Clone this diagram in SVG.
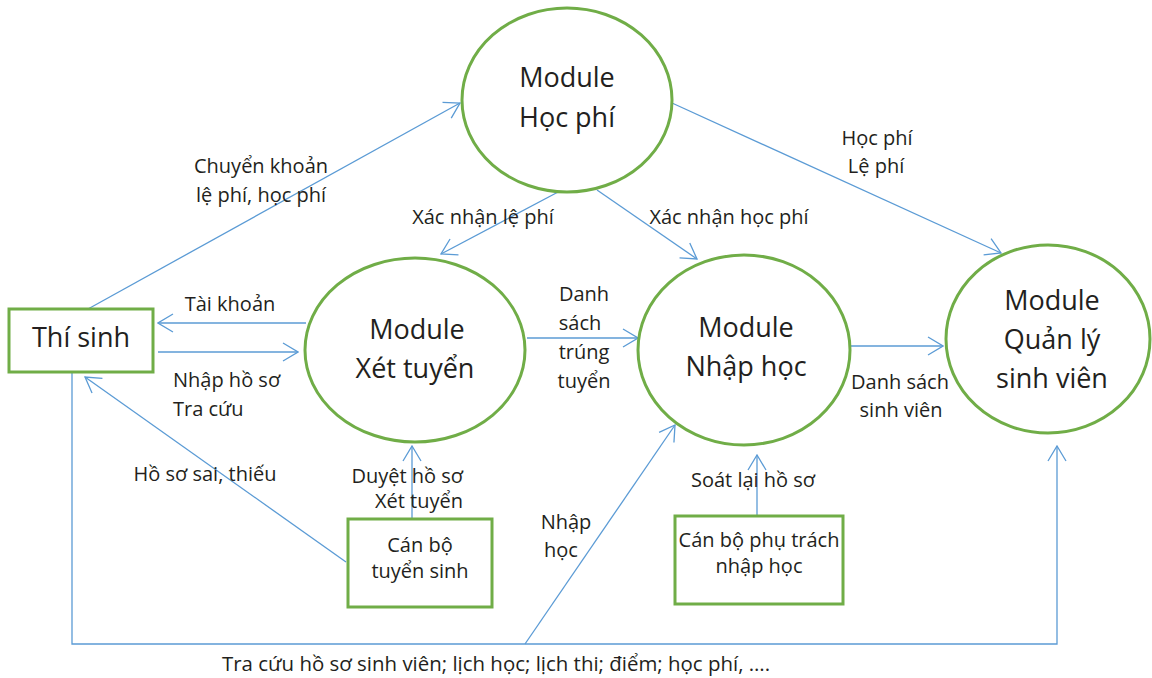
<svg xmlns="http://www.w3.org/2000/svg" width="1152" height="678" viewBox="0 0 1152 678">
  <style>
    .node { fill: #ffffff; stroke: #70AD47; stroke-width: 3; }
    .flow { fill: none; stroke: #5B9BD5; stroke-width: 1.3; marker-end: url(#arrow); }
    text { font-family: "Open Sans", "Liberation Sans", sans-serif; fill: #231F20; }
    .big { font-size: 27px; text-anchor: middle; }
    .mid { font-size: 20px; text-anchor: middle; }
    .lbl { font-size: 20px; }
    .c { text-anchor: middle; }
  </style>
  <defs>
    <marker id="arrow" viewBox="0 0 18 20" markerWidth="18" markerHeight="20" refX="17" refY="10" orient="auto" markerUnits="userSpaceOnUse">
      <path d="M2,1 L17,10 L2,19" fill="none" stroke="#5B9BD5" stroke-width="1.3"/>
    </marker>
  </defs>

  <!-- connectors -->
  <g id="connectors">
    <line class="flow" x1="88" y1="309" x2="460" y2="103"/>
    <line class="flow" x1="306" y1="323" x2="158" y2="323"/>
    <line class="flow" x1="158" y1="352" x2="298" y2="352"/>
    <line class="flow" x1="346" y1="562" x2="85" y2="377"/>
    <line class="flow" x1="412" y1="519" x2="412" y2="446"/>
    <line class="flow" x1="560" y1="191" x2="441" y2="254"/>
    <line class="flow" x1="597" y1="190" x2="697" y2="259"/>
    <line class="flow" x1="672" y1="103" x2="1001" y2="253"/>
    <line class="flow" x1="527" y1="338" x2="638" y2="338"/>
    <line class="flow" x1="851" y1="346" x2="943" y2="346"/>
    <line class="flow" x1="525" y1="644" x2="675" y2="425"/>
    <line class="flow" x1="757" y1="516" x2="757" y2="455"/>
    <polyline class="flow" points="72,372 72,644 1057,644 1057,446"/>
  </g>

  <!-- connector labels -->
  <g id="labels" class="lbl">
    <text x="261" y="173" class="c">Chuyển khoản</text>
    <text x="261" y="202" class="c">lệ phí, học phí</text>
    <text x="483" y="224" class="c">Xác nhận lệ phí</text>
    <text x="729" y="224" class="c">Xác nhận học phí</text>
    <text x="877" y="145" class="c">Học phí</text>
    <text x="876" y="173" class="c">Lệ phí</text>
    <text x="230" y="311" class="c">Tài khoản</text>
    <text x="173" y="387">Nhập hồ sơ</text>
    <text x="173" y="416">Tra cứu</text>
    <text x="584" y="301" class="c">Danh</text>
    <text x="580" y="330" class="c">sách</text>
    <text x="584" y="359" class="c">trúng</text>
    <text x="584" y="388" class="c">tuyển</text>
    <text x="900" y="389" class="c">Danh sách</text>
    <text x="901" y="417" class="c">sinh viên</text>
    <text x="205" y="481" class="c">Hồ sơ sai, thiếu</text>
    <text x="463" y="483" text-anchor="end">Duyệt hồ sơ</text>
    <text x="463" y="508" text-anchor="end">Xét tuyển</text>
    <text x="753" y="487" class="c">Soát lại hồ sơ</text>
    <text x="566" y="529" class="c">Nhập</text>
    <text x="561" y="557" class="c">học</text>
    <text x="222" y="671" textLength="548" lengthAdjust="spacingAndGlyphs">Tra cứu hồ sơ sinh viên; lịch học; lịch thi; điểm; học phí, ….</text>
  </g>

  <!-- nodes -->
  <g id="hoc-phi">
    <ellipse class="node" cx="567" cy="100" rx="105" ry="92"/>
    <text class="big" x="567" y="87">Module</text>
    <text class="big" x="567" y="127">Học phí</text>
  </g>
  <g id="xet-tuyen">
    <ellipse class="node" cx="415" cy="350" rx="110" ry="92"/>
    <text class="big" x="417" y="339">Module</text>
    <text class="big" x="415" y="378">Xét tuyển</text>
  </g>
  <g id="nhap-hoc">
    <ellipse class="node" cx="744" cy="350" rx="106" ry="95"/>
    <text class="big" x="746" y="337">Module</text>
    <text class="big" x="746" y="376">Nhập học</text>
  </g>
  <g id="quan-ly-sinh-vien">
    <ellipse class="node" cx="1048" cy="339" rx="102" ry="94"/>
    <text class="big" x="1052" y="310">Module</text>
    <text class="big" x="1052" y="349">Quản lý</text>
    <text class="big" x="1052" y="388">sinh viên</text>
  </g>
  <g id="thi-sinh">
    <rect class="node" x="9" y="309" width="144" height="63"/>
    <text class="big" x="81" y="347">Thí sinh</text>
  </g>
  <g id="can-bo-tuyen-sinh">
    <rect class="node" x="348" y="519" width="144" height="88"/>
    <text class="mid" x="420" y="552">Cán bộ</text>
    <text class="mid" x="420" y="578">tuyển sinh</text>
  </g>
  <g id="can-bo-nhap-hoc">
    <rect class="node" x="675" y="516" width="168" height="88"/>
    <text class="mid" x="759" y="547">Cán bộ phụ trách</text>
    <text class="mid" x="759" y="573">nhập học</text>
  </g>
</svg>
